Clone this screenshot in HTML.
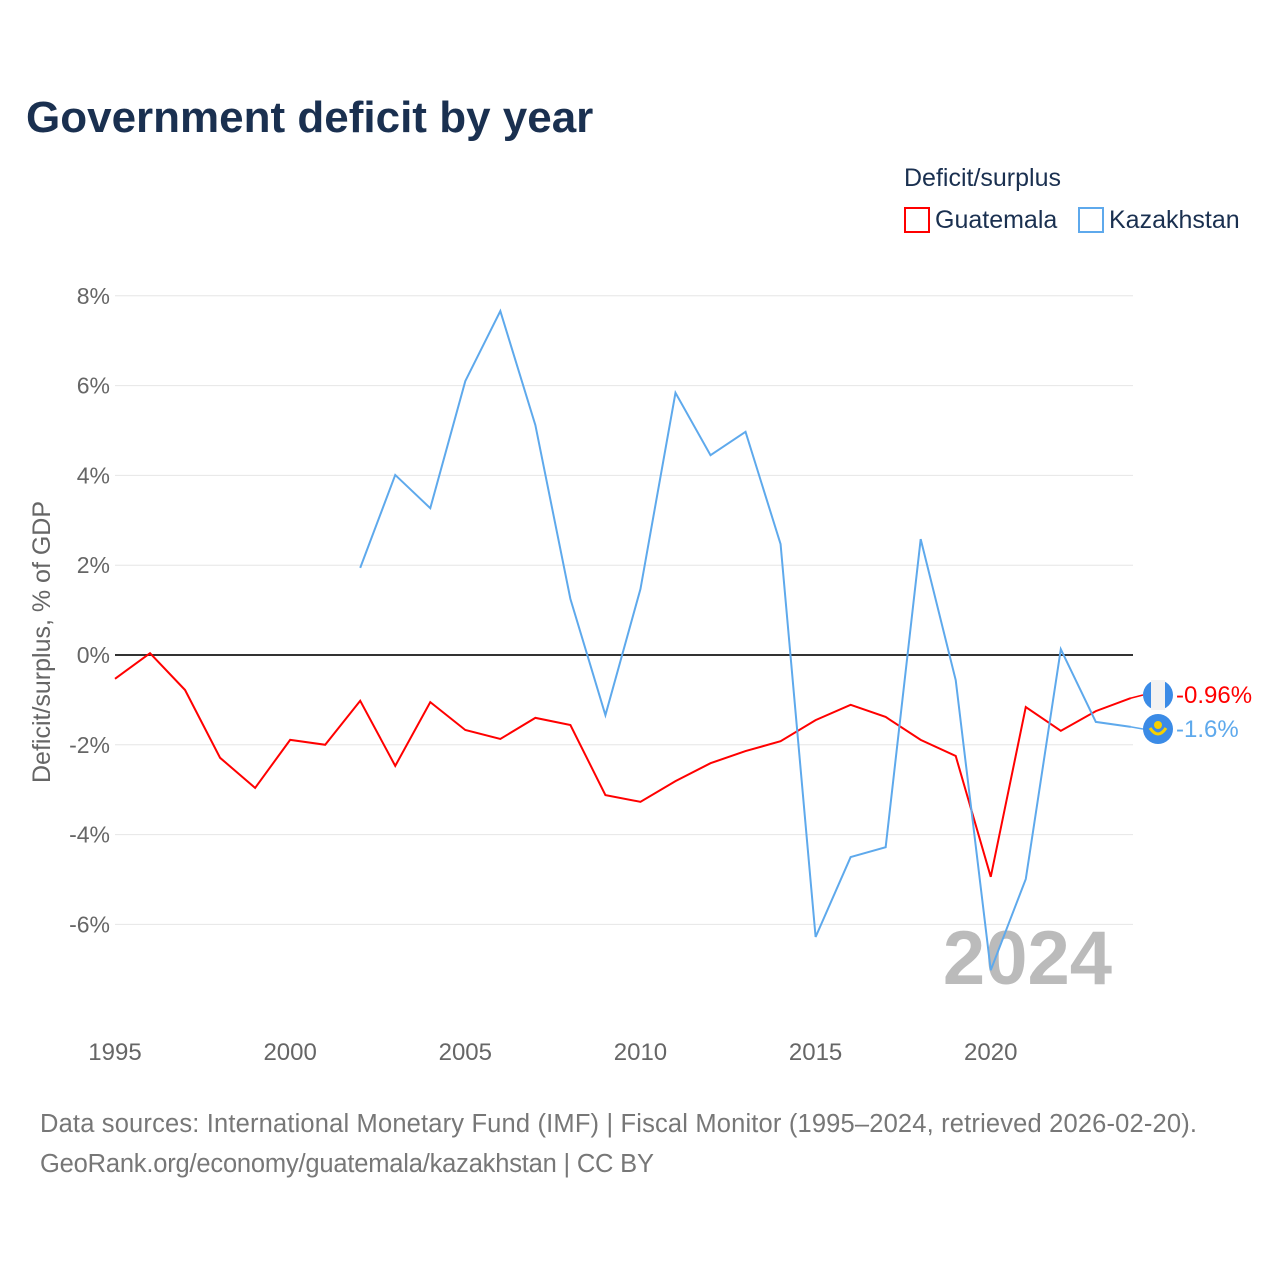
<!DOCTYPE html>
<html><head><meta charset="utf-8"><style>
body{margin:0;background:#fff;}
svg text{font-family:"Liberation Sans",sans-serif;}
</style></head><body>
<svg id="c" width="1280" height="1280" xmlns="http://www.w3.org/2000/svg">
<text x="26" y="132" font-size="44" font-weight="bold" fill="#1a3050">Government deficit by year</text>
<text x="904" y="186" font-size="25" fill="#1a3050">Deficit/surplus</text>
<g><rect x="905" y="208" width="24" height="24" fill="none" stroke="#ff0000" stroke-width="2"/><text x="935" y="228" font-size="25" fill="#1a3050">Guatemala</text></g>
<g><rect x="1079" y="208" width="24" height="24" fill="none" stroke="#5ea9ec" stroke-width="2"/><text x="1109" y="228" font-size="25" fill="#1a3050">Kazakhstan</text></g>
<text transform="translate(50,642) rotate(-90)" text-anchor="middle" font-size="25" fill="#666">Deficit/surplus, % of GDP</text>
<g id="grid"></g><g id="xt"></g>
<text x="1112" y="984" text-anchor="end" font-size="76" font-weight="bold" fill="#bbbbbb">2024</text>
<g id="series"></g>
<text x="40" y="1132" font-size="25.5" fill="#777" textLength="1157">Data sources: International Monetary Fund (IMF) | Fiscal Monitor (1995–2024, retrieved 2026-02-20).</text>
<text x="40" y="1172" font-size="25.5" fill="#777" textLength="614">GeoRank.org/economy/guatemala/kazakhstan | CC BY</text>
</svg>
<script>
const years=[1995,1996,1997,1998,1999,2000,2001,2002,2003,2004,2005,2006,2007,2008,2009,2010,2011,2012,2013,2014,2015,2016,2017,2018,2019,2020,2021,2022,2023,2024];
const guatemala=[-0.53,0.04,-0.78,-2.29,-2.96,-1.89,-2.0,-1.02,-2.47,-1.05,-1.67,-1.87,-1.40,-1.56,-3.12,-3.27,-2.81,-2.41,-2.14,-1.92,-1.45,-1.11,-1.38,-1.89,-2.25,-4.94,-1.16,-1.69,-1.25,-0.96];
const kazakhstan=[null,null,null,null,null,null,null,1.94,4.01,3.27,6.10,7.66,5.12,1.25,-1.34,1.47,5.84,4.45,4.97,2.47,-6.28,-4.50,-4.28,2.58,-0.56,-7.02,-4.99,0.13,-1.49,-1.60];
const yTicks=[8,6,4,2,0,-2,-4,-6];
const xTicks=[1995,2000,2005,2010,2015,2020];
const NS='http://www.w3.org/2000/svg';
const X=y=>115+(y-1995)*35.03;
const Y=v=>655-v*44.9;
function mk(t,a,p){const e=document.createElementNS(NS,t);for(const k in a)e.setAttribute(k,a[k]);p.appendChild(e);return e;}
const g=document.getElementById('grid');
yTicks.forEach(v=>{
 const l=mk('line',{x1:115,x2:1133,y1:Y(v),y2:Y(v),stroke:v===0?'#333':'#e6e6e6','stroke-width':v===0?2:1},g);
 
 
 const t=mk('text',{x:110,y:Y(v)+8,'text-anchor':'end','font-size':23,fill:'#666'},g);
 t.textContent=v+'%';
 
 
});
const xt=document.getElementById('xt');
xTicks.forEach(y=>{
 const t=mk('text',{x:X(y),y:1060,'text-anchor':'middle','font-size':24,fill:'#666'},xt);
 t.textContent=y;
 
 
});
const s=document.getElementById('series');
function line(vals,col,name,label,ly){
 let d='';vals.forEach((v,i)=>{if(v===null)return;d+=(d?'L':'M')+X(years[i])+','+Y(v);});
 const p=mk('path',{d:d,fill:'none',stroke:col,'stroke-width':2},s);
 
 
 const lv=vals[vals.length-1];
 mk('path',{d:'M'+X(2024)+','+Y(lv)+'L1143,'+ly,stroke:col,fill:'none','stroke-width':1.5},s);
 const c=mk('circle',{cx:1158,cy:ly,r:15,fill:'#3b8be6'},s);
 
 
 const t=mk('text',{x:1176,y:ly+8,'font-size':24,fill:col},s);
 t.textContent=label;
 
 
}
line(guatemala,'#ff0000','guatemala','-0.96%',695);
mk('rect',{x:1151,y:680,width:14,height:30,fill:'#f2f2f2'},s);
line(kazakhstan,'#5ea9ec','kazakhstan','-1.6%',729);
mk('path',{d:'M1150,728 Q1158,740 1166,728',stroke:'#f5d000','stroke-width':3,fill:'none'},s);
mk('circle',{cx:1158,cy:725,r:4,fill:'#f5d000'},s);
</script>
</body></html>
